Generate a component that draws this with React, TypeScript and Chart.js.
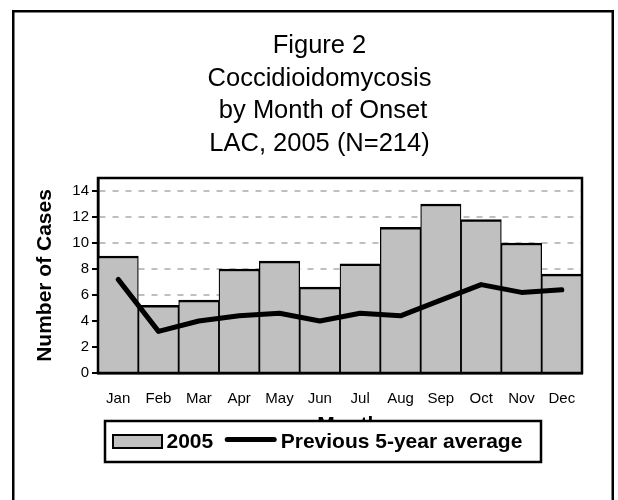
import React, { useEffect, useRef } from 'react';
import { Chart, registerables } from 'chart.js';

Chart.register(...registerables);

// ---- data ----
const MONTHS = ['Jan', 'Feb', 'Mar', 'Apr', 'May', 'Jun', 'Jul', 'Aug', 'Sep', 'Oct', 'Nov', 'Dec'];
const CASES_2005 = [9.0, 5.2, 5.6, 8.0, 8.6, 6.6, 8.4, 11.2, 13.0, 11.8, 10.0, 7.6];
const PREV_5YR_AVG = [7.2, 3.2, 4.0, 4.4, 4.6, 4.0, 4.6, 4.4, 5.6, 6.8, 6.2, 6.4];
const Y_TICKS = [0, 2, 4, 6, 8, 10, 12, 14];
const Y_MAX = 15;
const SERIES_LABELS = ['2005', 'Previous 5-year average'];
const TITLE_LINES = ['Figure 2', 'Coccidioidomycosis', ' by Month of Onset', 'LAC, 2005 (N=214)'];
const Y_TITLE = 'Number of Cases';
const X_TITLE = '   Month';

const FONT = '"Liberation Sans", Arial, Helvetica, sans-serif';

const LEGEND_LAYOUT = {
  left: 105,
  top: 421,
  width: 436,
  height: 41,
  padLeft: 8,
  swatchW: 49,
  lineW: 51,
  swatchH: 13,
  textGap: 4.5,
  itemGap: 12,
  fontSize: 21,
};

const TITLE_LAYOUT = { centerX: 319.5, firstBaseline: 52.8, lineStep: 32.8, fontSize: 25.5 };

const backgroundPlugin = {
  id: 'pageBackground',
  beforeDraw(chart: any) {
    const { ctx } = chart;
    ctx.save();
    ctx.fillStyle = '#ffffff';
    ctx.fillRect(0, 0, chart.width, chart.height);
    ctx.restore();
  },
  afterDraw(chart: any) {
    const { ctx } = chart;
    ctx.save();
    ctx.strokeStyle = '#000000';
    ctx.lineWidth = 2.5;
    ctx.strokeRect(13.25, 11.25, 599.5, chart.height + 50);
    ctx.restore();
  },
};

const titlePlugin = {
  id: 'figureTitle',
  afterDraw(chart: any) {
    const { ctx } = chart;
    const T = TITLE_LAYOUT;
    ctx.save();
    ctx.fillStyle = '#000000';
    ctx.font = `${T.fontSize}px ${FONT}`;
    ctx.textAlign = 'center';
    ctx.textBaseline = 'alphabetic';
    TITLE_LINES.forEach((line, i) => {
      ctx.fillText(line, T.centerX, T.firstBaseline + i * T.lineStep);
    });
    ctx.restore();
  },
};

const plotBorderPlugin = {
  id: 'plotBorder',
  afterDatasetsDraw(chart: any) {
    const { ctx, chartArea } = chart;
    ctx.save();
    ctx.setLineDash([]);
    ctx.strokeStyle = '#000000';
    ctx.lineWidth = 2.5;
    ctx.strokeRect(chartArea.left, chartArea.top, chartArea.right - chartArea.left, chartArea.bottom - chartArea.top);
    ctx.restore();
  },
};

const boxedLegendPlugin = {
  id: 'boxedLegend',
  afterDraw(chart: any) {
    const { ctx } = chart;
    const L = LEGEND_LAYOUT;
    ctx.save();
    ctx.setLineDash([]);
    ctx.fillStyle = '#ffffff';
    ctx.fillRect(L.left, L.top, L.width, L.height);
    ctx.strokeStyle = '#000000';
    ctx.lineWidth = 2.5;
    ctx.strokeRect(L.left, L.top, L.width, L.height);
    ctx.font = `bold ${L.fontSize}px ${FONT}`;
    ctx.textBaseline = 'middle';
    ctx.textAlign = 'left';
    const cy = L.top + L.height / 2;
    let x = L.left + L.padLeft;
    chart.data.datasets.forEach((ds: any) => {
      let w = L.swatchW;
      if (ds.type === 'line') {
        w = L.lineW;
        ctx.strokeStyle = ds.borderColor;
        ctx.lineWidth = ds.borderWidth;
        ctx.lineCap = 'round';
        ctx.beginPath();
        ctx.moveTo(x + 2, cy - 2);
        ctx.lineTo(x + w - 2, cy - 2);
        ctx.stroke();
      } else {
        ctx.fillStyle = ds.backgroundColor;
        ctx.fillRect(x, cy - L.swatchH / 2, w, L.swatchH);
        ctx.strokeStyle = ds.borderColor;
        ctx.lineWidth = 2;
        ctx.strokeRect(x, cy - L.swatchH / 2, w, L.swatchH);
      }
      x += w + L.textGap;
      ctx.fillStyle = '#000000';
      ctx.fillText(ds.label, x, cy + 0.5);
      x += ctx.measureText(ds.label).width + L.itemGap;
    });
    ctx.restore();
  },
};

export default function App() {
  const canvasRef = useRef<HTMLCanvasElement | null>(null);

  useEffect(() => {
    const canvas = canvasRef.current;
    if (!canvas) return;
    const chart = new Chart(canvas, {
      type: 'bar',
      data: {
        labels: MONTHS,
        datasets: [
          {
            type: 'bar',
            label: SERIES_LABELS[0],
            data: CASES_2005,
            backgroundColor: '#c0c0c0',
            borderColor: '#000000',
            borderWidth: { top: 2.5, left: 1.25, right: 1.25, bottom: 0 },
            borderSkipped: false,
            barPercentage: 1,
            categoryPercentage: 1,
            order: 2,
          } as any,
          {
            type: 'line',
            label: SERIES_LABELS[1],
            data: PREV_5YR_AVG,
            borderColor: '#000000',
            backgroundColor: '#000000',
            borderWidth: 5,
            pointRadius: 0,
            tension: 0,
            borderCapStyle: 'round',
            borderJoinStyle: 'round',
            fill: false,
            order: 1,
          } as any,
        ],
      },
      options: {
        responsive: false,
        animation: false,
        devicePixelRatio: 1,
        layout: { padding: { left: 0, right: 36, top: 178, bottom: 0 } },
        plugins: {
          legend: { display: false },
          title: { display: false },
          tooltip: { enabled: false },
        },
        scales: {
          x: {
            type: 'category',
            offset: true,
            grid: { display: false },
            border: { display: true, color: '#000000', width: 2.5 },
            ticks: {
              color: '#000000',
              font: { family: FONT, size: 15 },
              padding: 9,
              maxRotation: 0,
              autoSkip: false,
            },
            title: {
              display: true,
              text: X_TITLE,
              color: '#000000',
              font: { family: FONT, size: 21, weight: 'bold' },
              padding: { top: 0, bottom: 62 },
            },
            afterFit: (scale: any) => {
              scale.height = 127;
            },
          },
          y: {
            type: 'linear',
            min: 0,
            max: Y_MAX,
            afterBuildTicks: (scale: any) => {
              scale.ticks = Y_TICKS.map((v) => ({ value: v }));
            },
            grid: {
              color: (c: any) => (c.tick && c.tick.value === 0 ? 'rgba(0,0,0,0)' : '#bfbfbf'),
              lineWidth: 2,
              tickColor: '#000000',
              tickBorderDash: [],
              tickLength: 6,
              drawTicks: true,
            },
            border: { display: true, color: '#000000', width: 2.5, dash: [6, 7] },
            ticks: {
              color: '#000000',
              font: { family: FONT, size: 15 },
              padding: 3,
            },
            title: {
              display: true,
              text: Y_TITLE,
              color: '#000000',
              font: { family: FONT, size: 21, weight: 'bold' },
              padding: { top: 33, bottom: 0 },
            },
            afterFit: (scale: any) => {
              scale.width = 98;
            },
          },
        },
      },
      plugins: [backgroundPlugin, plotBorderPlugin, titlePlugin, boxedLegendPlugin],
    });
    return () => {
      chart.destroy();
    };
  }, []);

  return (
    <div style={{ position: 'absolute', left: 0, top: 0, width: 618, height: 500, background: '#fff' }}>
      <canvas ref={canvasRef} width={618} height={500} style={{ display: 'block', width: 618, height: 500 }} />
    </div>
  );
}
